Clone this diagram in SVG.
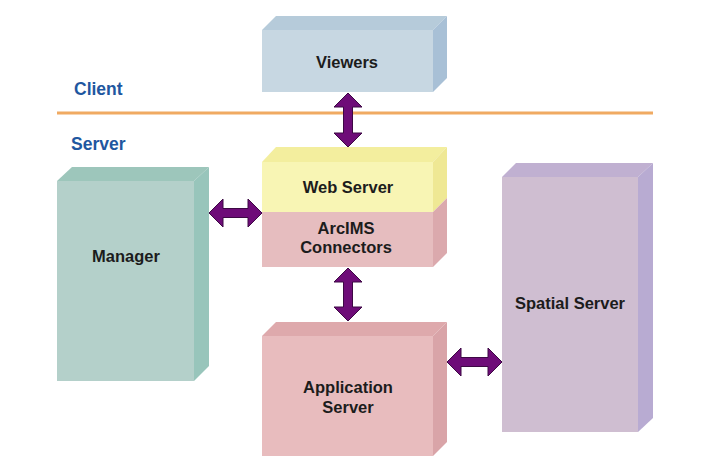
<svg xmlns="http://www.w3.org/2000/svg" width="724" height="458" viewBox="0 0 724 458">
  <style>
    .lbl { font-family: "Liberation Sans", Arial, sans-serif; font-weight: bold; font-size: 16.5px; fill: #1c1c1c; text-anchor: middle; }
    .tier { font-family: "Liberation Sans", Arial, sans-serif; font-weight: bold; font-size: 17.5px; fill: #1f57a0; }
    .arrow { fill: #6e0c78; stroke: #3d0844; stroke-width: 1; stroke-linejoin: miter; }
  </style>
  <rect width="724" height="458" fill="#ffffff"/>

  <!-- tier labels and divider -->
  <g id="tiers">
    <text class="tier" x="74" y="95">Client</text>
    <line x1="57" y1="113" x2="653" y2="113" stroke="#f0aa62" stroke-width="3"/>
    <text class="tier" x="71" y="150">Server</text>
  </g>

  <g id="viewers">
    <polygon points="262,30 276,16 447,16 433,30" fill="#b6cbda"/>
    <polygon points="433,30 447,16 447,78 433,92" fill="#a8c0d6"/>
    <rect x="262" y="30" width="171" height="62" fill="#c7d7e2"/>
    <text class="lbl" x="347" y="68">Viewers</text>
  </g>

  <g id="manager">
    <polygon points="57,181 72,167 209,167 194,181" fill="#9dc6bb"/>
    <polygon points="194,181 209,167 209,366 194,381" fill="#98c5bb"/>
    <rect x="57" y="181" width="137" height="200" fill="#b4d0ca"/>
    <text class="lbl" x="126" y="262">Manager</text>
  </g>

  <g id="web-server">
    <polygon points="262,162 276,147 447,147 433,162" fill="#f3ee9e"/>
    <polygon points="433,162 447,147 447,198 433,212" fill="#efe894"/>
    <rect x="262" y="162" width="171" height="50" fill="#f8f5b4"/>
    <text class="lbl" x="348" y="193">Web Server</text>
  </g>

  <g id="arcims-connectors">
    <polygon points="433,212 447,198 447,253 433,267" fill="#dba9ad"/>
    <rect x="262" y="212" width="171" height="55" fill="#e6bdbf"/>
    <text class="lbl" x="346" y="234">ArcIMS</text>
    <text class="lbl" x="346" y="253">Connectors</text>
  </g>

  <g id="application-server">
    <polygon points="262,336 276,322 447,322 433,336" fill="#dea9ac"/>
    <polygon points="433,336 447,322 447,442 433,456" fill="#d9a4a8"/>
    <rect x="262" y="336" width="171" height="120" fill="#e8bcbe"/>
    <text class="lbl" x="348" y="393">Application</text>
    <text class="lbl" x="348" y="413">Server</text>
  </g>

  <g id="spatial-server">
    <polygon points="502,177 516,163 653,163 638,177" fill="#c0b0d1"/>
    <polygon points="638,177 653,163 653,418 638,432" fill="#b8abd2"/>
    <rect x="502" y="177" width="136" height="255" fill="#cfbed1"/>
    <text class="lbl" x="570" y="309">Spatial Server</text>
  </g>

  <!-- double-headed connectors -->
  <g id="connectors">
    <!-- viewers <-> web server -->
    <polygon class="arrow" points="348,93 362,107 352.5,107 352.5,133 362,133 348,147 334,133 343.5,133 343.5,107 334,107"/>
    <!-- manager <-> web server -->
    <polygon class="arrow" points="209,213 223,199 223,208.5 248,208.5 248,199 262,213 248,227 248,217.5 223,217.5 223,227"/>
    <!-- connectors <-> application server -->
    <polygon class="arrow" points="348,268 362,282 352.5,282 352.5,307 362,307 348,321 334,307 343.5,307 343.5,282 334,282"/>
    <!-- application server <-> spatial server -->
    <polygon class="arrow" points="447,362 461,348 461,357.5 488,357.5 488,348 502,362 488,376 488,366.5 461,366.5 461,376"/>
  </g>
</svg>
